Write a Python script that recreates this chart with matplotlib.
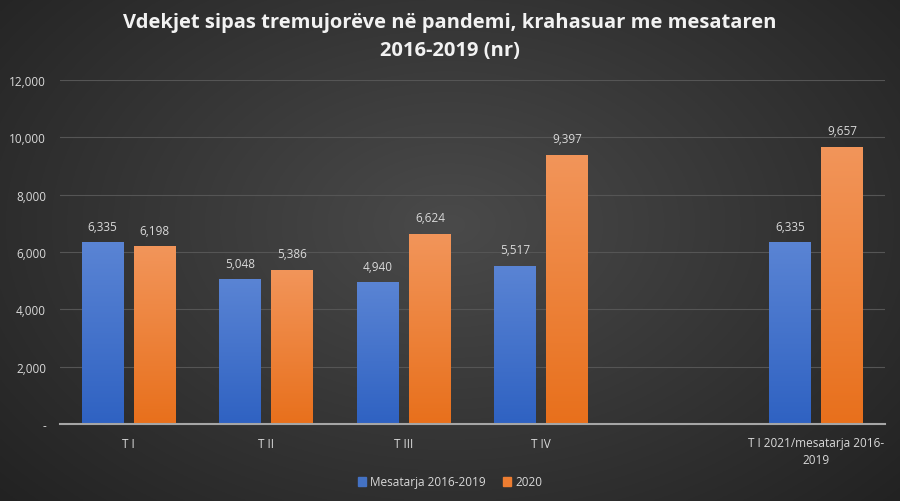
import numpy as np
import matplotlib
matplotlib.use("Agg")
import matplotlib.pyplot as plt
from matplotlib.patches import Patch

categories = ["T I", "T II", "T III", "T IV", "", "T I 2021/mesatarja 2016-\n2019"]
avg_2016_2019 = [6335, 5048, 4940, 5517, None, 6335]
val_2020 = [6198, 5386, 6624, 9397, None, 9657]
series_names = ["Mesatarja 2016-2019", "2020"]
yticks = [0, 2000, 4000, 6000, 8000, 10000, 12000]
ytick_labels = ["-", "2,000", "4,000", "6,000", "8,000", "10,000", "12,000"]
title = "Vdekjet sipas tremujorëve në pandemi, krahasuar me mesataren\n2016-2019 (nr)"

plt.rcParams['font.family'] = ['Open Sans', 'DejaVu Sans']
txt = "#d9d9d9"

fig = plt.figure(figsize=(9, 5.02), dpi=100)

# background radial gradient
bg = fig.add_axes([0, 0, 1, 1], zorder=-10)
yy, xx = np.mgrid[0:1:300j, 0:1:540j]
r = np.sqrt(((xx - 0.5) / 0.75) ** 2 + ((yy - 0.55) / 0.9) ** 2)
val = np.clip(1 - r, 0, 1)
lo = np.array([0x1e, 0x1e, 0x1e]) / 255
hi = np.array([0x4a, 0x4a, 0x4a]) / 255
img = lo + (hi - lo) * val[..., None]
bg.imshow(img, extent=[0, 1, 0, 1], aspect='auto', origin='lower')
bg.axis('off')

ax = fig.add_axes([60 / 900, 1 - 425 / 502, 825 / 900, 344 / 502])
ax.set_facecolor('none')
x = np.arange(len(categories))
w = 0.305
off = 0.19

b1 = [v if v is not None else 0 for v in avg_2016_2019]
b2 = [v if v is not None else 0 for v in val_2020]
bars1 = ax.bar(x - off, b1, w, color="#4472c4", zorder=3)
bars2 = ax.bar(x + off, b2, w, color="#ed7d31", zorder=3)

def gradient(bars, top, bottom):
    top = np.array(matplotlib.colors.to_rgb(top))
    bottom = np.array(matplotlib.colors.to_rgb(bottom))
    for b in bars:
        h = b.get_height()
        if h <= 0:
            continue
        t = np.linspace(0, 1, 100)[:, None, None]
        g = bottom + (top - bottom) * t
        g = np.repeat(g, 2, axis=1)
        xl = b.get_x()
        im = ax.imshow(g, extent=[xl, xl + b.get_width(), 0, h], origin='lower',
                       aspect='auto', zorder=4)
        im.set_clip_path(b)

gradient(bars1, "#5a84d4", "#2f62c2")
gradient(bars2, "#f2955a", "#e8701c")

for bars, vals in ((bars1, avg_2016_2019), (bars2, val_2020)):
    for b, v in zip(bars, vals):
        if v is None:
            continue
        ax.annotate(f"{v:,}", (b.get_x() + b.get_width() / 2, v), xytext=(0, 7),
                    textcoords="offset points", ha='center', va='bottom',
                    color=txt, fontsize=8.5, zorder=5)

ax.set_xlim(-0.5, len(categories) - 0.5)
ax.set_ylim(0, 12000)
ax.set_yticks(yticks)
ax.set_yticklabels(ytick_labels)
ax.set_xticks(x)
ax.set_xticklabels(categories, linespacing=1.4)
ax.tick_params(axis='both', length=0, colors=txt, labelsize=8.5)
ax.tick_params(axis='y', pad=10)
ax.tick_params(axis='x', pad=9)
ax.grid(axis='y', color="#555555", linewidth=0.8, zorder=0)
for s in ['top', 'right', 'left']:
    ax.spines[s].set_visible(False)
ax.spines['bottom'].set_color("#a6a6a6")
ax.spines['bottom'].set_linewidth(1.5)
ax.spines['bottom'].set_zorder(6)

fig.text(0.5, 1 - 37 / 502, title, ha='center', va='center', color="#f2f2f2",
         fontsize=14.5, fontweight='bold', linespacing=1.5)

handles = [Patch(color="#4472c4"), Patch(color="#ed7d31")]
fig.legend(handles, series_names, loc='center', bbox_to_anchor=(0.5, 1 - 483 / 502),
           ncol=2, frameon=False, fontsize=8.5, labelcolor=txt,
           handlelength=0.7, handleheight=0.7, handletextpad=0.3, columnspacing=1.5)

fig.savefig("out.png", dpi=100)
